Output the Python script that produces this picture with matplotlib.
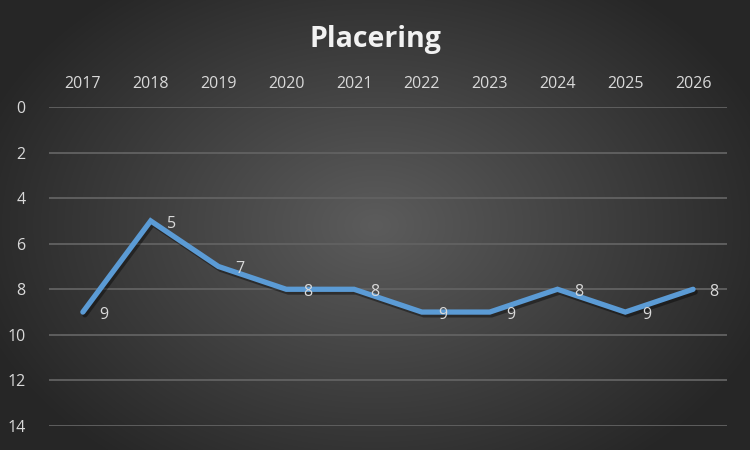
import numpy as np
import matplotlib.pyplot as plt
import matplotlib.patheffects as pe

years = ['2017', '2018', '2019', '2020', '2021', '2022', '2023', '2024', '2025', '2026']
placering = [9, 5, 7, 8, 8, 9, 9, 8, 9, 8]

plt.rcParams['font.family'] = ['Open Sans', 'DejaVu Sans']

fig = plt.figure(figsize=(7.5, 4.5), dpi=100)

# radial gradient background
bg = fig.add_axes([0, 0, 1, 1])
yy, xx = np.mgrid[0:450, 0:750]
r = np.sqrt(((xx - 375) / 420.0) ** 2 + ((yy - 225) / 300.0) ** 2)
r = np.clip(r, 0, 1)
inner, outer = 0x5c / 255, 0x26 / 255
val = inner + (outer - inner) * r
img = np.dstack([val, val, val])
bg.imshow(img, extent=[0, 1, 0, 1], aspect='auto', origin='upper')
bg.set_axis_off()

ax = fig.add_axes([0.0653, 0.0533, 0.904, 0.709])
ax.patch.set_alpha(0)
x = np.arange(len(years))
ax.plot(x, placering, color='#5B9BD5', lw=3.8, solid_joinstyle='miter',
        solid_capstyle='round', zorder=3,
        path_effects=[pe.SimpleLineShadow(offset=(1.5, -2), shadow_color='black', alpha=0.4),
                      pe.Normal()])
for xi, v in zip(x, placering):
    ax.annotate(str(v), (xi, v), xytext=(12, -2), textcoords='offset points',
                color='#d9d9d9', fontsize=11.5, va='center', ha='left')

ax.set_xlim(-0.5, len(years) - 0.5)
ax.set_ylim(14, 0)
ax.set_yticks(range(0, 15, 2))
ax.set_xticks(x)
ax.set_xticklabels(years)
ax.xaxis.tick_top()
ax.tick_params(length=0, colors='#d9d9d9', labelsize=11.5)
ax.tick_params(axis='y', pad=17)
ax.tick_params(axis='x', pad=11)
ax.grid(axis='y', color='#626262', lw=1.3)
for s in ax.spines.values():
    s.set_visible(False)

fig.text(0.5, 0.913, 'Placering', ha='center', va='center', color='#f2f2f2',
         fontsize=20.5, fontweight='bold')

fig.savefig('out.png', dpi=100)
